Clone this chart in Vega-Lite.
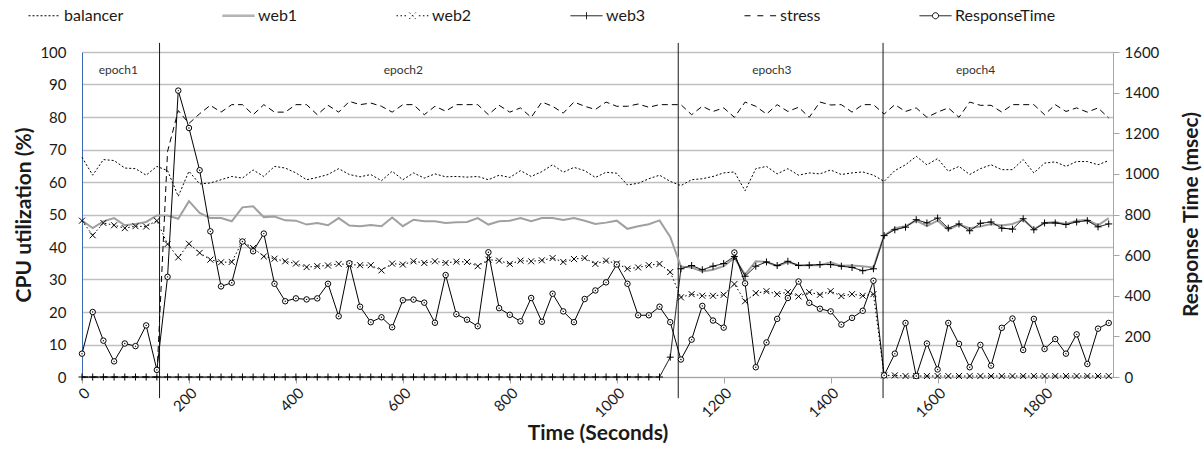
{
  "$schema": "https://vega.github.io/schema/vega-lite/v6.json",
  "width": 1031,
  "height": 325,
  "autosize": {"type": "none"},
  "padding": {"left": 82, "top": 52, "right": 90, "bottom": 73},
  "background": "white",
  "config": {
    "font": "Lato",
    "view": {"stroke": null},
    "axis": {"labelFont": "Lato", "titleFont": "Lato", "labelColor": "#1a1a1a", "titleColor": "#1a1a1a", "labelFontSize": 15, "titleFontSize": 21, "titleFontWeight": "bold"},
    "legend": {"labelFont": "Lato", "labelFontSize": 16, "labelColor": "#1a1a1a"}
  },
  "data": {"values": [
    {"t":0,"balancer":67.6,"web1":48.1,"web2":48.1,"web3":0,"stress":0,"rt":115},
    {"t":20,"balancer":62.1,"web1":45.8,"web2":43.6,"web3":0,"stress":0,"rt":320},
    {"t":40,"balancer":66.9,"web1":47.9,"web2":47.4,"web3":0,"stress":0,"rt":179},
    {"t":60,"balancer":66.6,"web1":48.9,"web2":46.7,"web3":0,"stress":0,"rt":77},
    {"t":80,"balancer":64.3,"web1":46.7,"web2":45.8,"web3":0,"stress":0,"rt":165},
    {"t":100,"balancer":64.1,"web1":47.1,"web2":46.4,"web3":0,"stress":0,"rt":152},
    {"t":120,"balancer":62.1,"web1":47.7,"web2":46.3,"web3":0,"stress":0,"rt":254},
    {"t":140,"balancer":64.8,"web1":49.7,"web2":48.1,"web3":0,"stress":0,"rt":35},
    {"t":160,"balancer":63.5,"web1":49.7,"web2":40.9,"web3":0,"stress":69.4,"rt":493},
    {"t":180,"balancer":55.6,"web1":48.7,"web2":36.8,"web3":0,"stress":82.0,"rt":1410},
    {"t":200,"balancer":63.3,"web1":54.1,"web2":41.0,"web3":0,"stress":78.0,"rt":1226},
    {"t":220,"balancer":59.4,"web1":50.5,"web2":38.2,"web3":0,"stress":81.0,"rt":1018},
    {"t":240,"balancer":59.7,"web1":48.9,"web2":36.1,"web3":0,"stress":83.6,"rt":717},
    {"t":260,"balancer":60.7,"web1":48.9,"web2":35.3,"web3":0,"stress":81.5,"rt":446},
    {"t":280,"balancer":61.7,"web1":47.9,"web2":35.4,"web3":0,"stress":83.8,"rt":464},
    {"t":300,"balancer":61.2,"web1":52.2,"web2":41.7,"web3":0,"stress":83.8,"rt":667},
    {"t":320,"balancer":63.7,"web1":52.5,"web2":39.7,"web3":0,"stress":80.7,"rt":619},
    {"t":340,"balancer":61.7,"web1":49.2,"web2":37.1,"web3":0,"stress":83.8,"rt":706},
    {"t":360,"balancer":64.8,"web1":49.4,"web2":36.4,"web3":0,"stress":81.5,"rt":459},
    {"t":380,"balancer":64.3,"web1":48.2,"web2":35.6,"web3":0,"stress":81.5,"rt":373},
    {"t":400,"balancer":62.8,"web1":48.1,"web2":34.9,"web3":0,"stress":83.8,"rt":387},
    {"t":420,"balancer":60.7,"web1":46.9,"web2":33.8,"web3":0,"stress":83.8,"rt":382},
    {"t":440,"balancer":61.4,"web1":47.4,"web2":34.1,"web3":0,"stress":80.7,"rt":387},
    {"t":460,"balancer":62.3,"web1":46.7,"web2":34.3,"web3":0,"stress":83.6,"rt":459},
    {"t":480,"balancer":64.1,"web1":48.9,"web2":34.8,"web3":0,"stress":81.5,"rt":299},
    {"t":500,"balancer":62.3,"web1":46.6,"web2":34.6,"web3":0,"stress":84.8,"rt":560},
    {"t":520,"balancer":61.6,"web1":46.4,"web2":34.4,"web3":0,"stress":83.8,"rt":346},
    {"t":540,"balancer":62.3,"web1":46.8,"web2":34.4,"web3":0,"stress":84.3,"rt":270},
    {"t":560,"balancer":60.4,"web1":46.4,"web2":32.8,"web3":0,"stress":83.3,"rt":294},
    {"t":580,"balancer":63.3,"web1":49.1,"web2":34.9,"web3":0,"stress":81.5,"rt":245},
    {"t":600,"balancer":60.7,"web1":46.4,"web2":34.6,"web3":0,"stress":83.8,"rt":378},
    {"t":620,"balancer":62.8,"web1":48.4,"web2":35.6,"web3":0,"stress":83.8,"rt":381},
    {"t":640,"balancer":61.2,"web1":47.9,"web2":35.1,"web3":0,"stress":80.7,"rt":366},
    {"t":660,"balancer":62.5,"web1":47.9,"web2":35.6,"web3":0,"stress":83.3,"rt":267},
    {"t":680,"balancer":61.6,"web1":47.4,"web2":35.1,"web3":0,"stress":81.8,"rt":502},
    {"t":700,"balancer":61.7,"web1":47.6,"web2":35.5,"web3":0,"stress":83.8,"rt":309},
    {"t":720,"balancer":61.5,"web1":47.7,"web2":35.4,"web3":0,"stress":83.8,"rt":282},
    {"t":740,"balancer":61.7,"web1":48.9,"web2":34.1,"web3":0,"stress":83.8,"rt":250},
    {"t":760,"balancer":60.7,"web1":46.9,"web2":36.1,"web3":0,"stress":80.7,"rt":614},
    {"t":780,"balancer":62.1,"web1":47.9,"web2":35.8,"web3":0,"stress":83.6,"rt":339},
    {"t":800,"balancer":61.4,"web1":48.1,"web2":34.8,"web3":0,"stress":81.5,"rt":306},
    {"t":820,"balancer":63.5,"web1":48.9,"web2":35.8,"web3":0,"stress":82.8,"rt":274},
    {"t":840,"balancer":61.7,"web1":47.9,"web2":35.6,"web3":0,"stress":79.9,"rt":389},
    {"t":860,"balancer":63.2,"web1":48.9,"web2":35.9,"web3":0,"stress":84.6,"rt":272},
    {"t":880,"balancer":65.3,"web1":48.9,"web2":36.6,"web3":0,"stress":83.3,"rt":410},
    {"t":900,"balancer":63.0,"web1":48.3,"web2":35.4,"web3":0,"stress":81.2,"rt":323},
    {"t":920,"balancer":64.5,"web1":48.9,"web2":36.3,"web3":0,"stress":84.6,"rt":270},
    {"t":940,"balancer":63.5,"web1":48.1,"web2":36.6,"web3":0,"stress":83.3,"rt":384},
    {"t":960,"balancer":61.4,"web1":47.1,"web2":34.8,"web3":0,"stress":82.3,"rt":426},
    {"t":980,"balancer":63.0,"web1":47.5,"web2":35.8,"web3":0,"stress":84.6,"rt":466},
    {"t":1000,"balancer":62.7,"web1":48.1,"web2":34.9,"web3":0,"stress":83.3,"rt":554},
    {"t":1020,"balancer":59.1,"web1":45.6,"web2":33.3,"web3":0,"stress":83.3,"rt":459},
    {"t":1040,"balancer":59.6,"web1":46.4,"web2":33.7,"web3":0,"stress":84.0,"rt":304},
    {"t":1060,"balancer":61.0,"web1":47.0,"web2":34.4,"web3":0,"stress":83.0,"rt":304},
    {"t":1080,"balancer":62.1,"web1":48.2,"web2":34.8,"web3":0,"stress":83.8,"rt":346},
    {"t":1100,"balancer":60.2,"web1":43.1,"web2":32.3,"web3":6.1,"stress":83.8,"rt":270},
    {"t":1120,"balancer":58.9,"web1":34.0,"web2":24.5,"web3":33.3,"stress":83.8,"rt":86},
    {"t":1140,"balancer":60.7,"web1":33.7,"web2":25.5,"web3":34.3,"stress":80.7,"rt":184},
    {"t":1160,"balancer":61.0,"web1":32.5,"web2":25.0,"web3":33.0,"stress":83.3,"rt":350},
    {"t":1180,"balancer":61.7,"web1":33.0,"web2":25.0,"web3":34.1,"stress":81.7,"rt":278},
    {"t":1200,"balancer":62.8,"web1":34.1,"web2":25.3,"web3":34.9,"stress":82.8,"rt":243},
    {"t":1220,"balancer":63.1,"web1":36.6,"web2":28.6,"web3":37.1,"stress":79.9,"rt":613},
    {"t":1240,"balancer":57.3,"web1":31.5,"web2":23.3,"web3":31.0,"stress":84.6,"rt":461},
    {"t":1260,"balancer":64.1,"web1":35.6,"web2":25.8,"web3":34.1,"stress":83.3,"rt":48},
    {"t":1280,"balancer":64.8,"web1":35.4,"web2":26.4,"web3":35.4,"stress":80.9,"rt":170},
    {"t":1300,"balancer":62.5,"web1":34.1,"web2":25.5,"web3":34.3,"stress":83.8,"rt":286},
    {"t":1320,"balancer":64.1,"web1":35.4,"web2":26.1,"web3":35.6,"stress":81.7,"rt":389},
    {"t":1340,"balancer":62.1,"web1":34.4,"web2":24.8,"web3":34.3,"stress":83.0,"rt":470},
    {"t":1360,"balancer":62.8,"web1":34.4,"web2":26.1,"web3":34.4,"stress":79.9,"rt":365},
    {"t":1380,"balancer":62.5,"web1":34.4,"web2":25.3,"web3":34.6,"stress":84.6,"rt":336},
    {"t":1400,"balancer":63.7,"web1":35.3,"web2":26.4,"web3":34.6,"stress":83.7,"rt":323},
    {"t":1420,"balancer":62.3,"web1":34.2,"web2":24.9,"web3":34.1,"stress":83.8,"rt":258},
    {"t":1440,"balancer":62.8,"web1":34.3,"web2":25.5,"web3":33.7,"stress":81.5,"rt":291},
    {"t":1460,"balancer":63.1,"web1":34.1,"web2":25.0,"web3":32.7,"stress":83.8,"rt":326},
    {"t":1480,"balancer":62.1,"web1":33.7,"web2":25.5,"web3":33.3,"stress":83.8,"rt":474},
    {"t":1500,"balancer":60.2,"web1":43.5,"web2":0.5,"web3":43.5,"stress":80.9,"rt":8},
    {"t":1520,"balancer":63.5,"web1":45.8,"web2":0.5,"web3":45.3,"stress":83.8,"rt":115},
    {"t":1540,"balancer":65.3,"web1":46.4,"web2":0.3,"web3":46.1,"stress":81.7,"rt":266},
    {"t":1560,"balancer":67.9,"web1":48.1,"web2":0.3,"web3":48.4,"stress":82.8,"rt":5},
    {"t":1580,"balancer":65.3,"web1":46.4,"web2":0.3,"web3":47.4,"stress":79.9,"rt":165},
    {"t":1600,"balancer":67.2,"web1":48.1,"web2":0.3,"web3":48.9,"stress":81.5,"rt":37},
    {"t":1620,"balancer":63.3,"web1":45.3,"web2":0.3,"web3":45.8,"stress":82.8,"rt":266},
    {"t":1640,"balancer":64.8,"web1":46.9,"web2":0.3,"web3":47.1,"stress":79.9,"rt":163},
    {"t":1660,"balancer":62.3,"web1":45.8,"web2":0.3,"web3":45.0,"stress":84.6,"rt":48},
    {"t":1680,"balancer":64.1,"web1":46.3,"web2":0.3,"web3":47.3,"stress":83.6,"rt":158},
    {"t":1700,"balancer":65.3,"web1":47.1,"web2":0.3,"web3":47.7,"stress":83.6,"rt":56},
    {"t":1720,"balancer":63.8,"web1":46.6,"web2":0.3,"web3":45.8,"stress":81.5,"rt":242},
    {"t":1740,"balancer":63.8,"web1":47.1,"web2":0.3,"web3":45.5,"stress":83.8,"rt":288},
    {"t":1760,"balancer":66.9,"web1":48.4,"web2":0.3,"web3":48.7,"stress":83.8,"rt":133},
    {"t":1780,"balancer":62.8,"web1":45.5,"web2":0.3,"web3":45.3,"stress":83.8,"rt":286},
    {"t":1800,"balancer":65.8,"web1":47.4,"web2":0.3,"web3":47.4,"stress":80.7,"rt":138},
    {"t":1820,"balancer":66.2,"web1":47.7,"web2":0.3,"web3":47.4,"stress":83.8,"rt":187},
    {"t":1840,"balancer":64.8,"web1":47.1,"web2":0.3,"web3":46.9,"stress":81.7,"rt":115},
    {"t":1860,"balancer":66.3,"web1":48.1,"web2":0.3,"web3":47.7,"stress":82.8,"rt":210},
    {"t":1880,"balancer":66.3,"web1":48.4,"web2":0.3,"web3":48.1,"stress":81.5,"rt":64},
    {"t":1900,"balancer":65.3,"web1":46.7,"web2":0.3,"web3":46.2,"stress":82.8,"rt":238},
    {"t":1920,"balancer":66.6,"web1":48.9,"web2":0.3,"web3":47.1,"stress":79.7,"rt":266}
  ]},
  "layer": [
    {
      "layer": [
        {
          "data": {"values": [{"t": 145}, {"t": 1115}, {"t": 1498}]},
          "mark": {"type": "rule", "color": "#1a1a1a", "strokeWidth": 1},
          "encoding": {
            "x": {"field": "t", "type": "quantitative", "scale": {"domain": [0, 1928], "nice": false, "zero": false}, "title": "Time (Seconds)",
              "axis": {"values": [0, 200, 400, 600, 800, 1000, 1200, 1400, 1600, 1800], "format": "d", "title": "Time (Seconds)", "labelAngle": -45, "grid": false, "tickSize": 6, "tickColor": "#a6a6a6", "domainColor": "#a6a6a6", "labelPadding": 2, "titlePadding": 2}},
            "y": {"datum": 102.8, "type": "quantitative", "scale": {"domain": [0, 100], "nice": false}, "title": "CPU utilization (%)",
              "axis": {"values": [0, 10, 20, 30, 40, 50, 60, 70, 80, 90, 100], "format": "d", "title": "CPU utilization (%)", "grid": true, "gridColor": "#c0c0c0", "gridWidth": 1.3, "ticks": false, "domainColor": "#3d6bb3", "labelPadding": 16, "titlePadding": 5}},
            "y2": {"datum": -6.5}
          }
        },
        {
          "data": {"values": [{"t": 68, "label": "epoch1"}, {"t": 601, "label": "epoch2"}, {"t": 1290, "label": "epoch3"}, {"t": 1671, "label": "epoch4"}]},
          "mark": {"type": "text", "fontSize": 12, "color": "#333333", "font": "Lato"},
          "encoding": {
            "x": {"field": "t", "type": "quantitative", "scale": {"domain": [0, 1928], "nice": false, "zero": false}, "title": "Time (Seconds)",
              "axis": {"values": [0, 200, 400, 600, 800, 1000, 1200, 1400, 1600, 1800], "format": "d", "title": "Time (Seconds)", "labelAngle": -45, "grid": false, "tickSize": 6, "tickColor": "#a6a6a6", "domainColor": "#a6a6a6", "labelPadding": 2, "titlePadding": 2}},
            "y": {"datum": 94.5, "type": "quantitative", "scale": {"domain": [0, 100], "nice": false}, "title": "CPU utilization (%)",
              "axis": {"values": [0, 10, 20, 30, 40, 50, 60, 70, 80, 90, 100], "format": "d", "title": "CPU utilization (%)", "grid": true, "gridColor": "#c0c0c0", "gridWidth": 1.3, "ticks": false, "domainColor": "#3d6bb3", "labelPadding": 16, "titlePadding": 5}},
            "text": {"field": "label", "type": "nominal"}
          }
        },
        {
          "mark": {"type": "line", "strokeWidth": 2, "color": "#a0a0a0"},
          "encoding": {
            "x": {"field": "t", "type": "quantitative", "scale": {"domain": [0, 1928], "nice": false, "zero": false}, "title": "Time (Seconds)",
              "axis": {"values": [0, 200, 400, 600, 800, 1000, 1200, 1400, 1600, 1800], "format": "d", "title": "Time (Seconds)", "labelAngle": -45, "grid": false, "tickSize": 6, "tickColor": "#a6a6a6", "domainColor": "#a6a6a6", "labelPadding": 2, "titlePadding": 2}},
            "y": {"field": "web1", "type": "quantitative", "scale": {"domain": [0, 100], "nice": false}, "title": "CPU utilization (%)",
              "axis": {"values": [0, 10, 20, 30, 40, 50, 60, 70, 80, 90, 100], "format": "d", "title": "CPU utilization (%)", "grid": true, "gridColor": "#c0c0c0", "gridWidth": 1.3, "ticks": false, "domainColor": "#3d6bb3", "labelPadding": 16, "titlePadding": 5}}
          }
        },
        {
          "transform": [{"fold": ["balancer", "web2", "web3", "stress"], "as": ["series", "v"]}],
          "layer": [
            {
              "mark": {"type": "line", "strokeWidth": 1},
              "encoding": {
                "x": {"field": "t", "type": "quantitative", "scale": {"domain": [0, 1928], "nice": false, "zero": false}, "title": "Time (Seconds)",
                  "axis": {"values": [0, 200, 400, 600, 800, 1000, 1200, 1400, 1600, 1800], "format": "d", "title": "Time (Seconds)", "labelAngle": -45, "grid": false, "tickSize": 6, "tickColor": "#a6a6a6", "domainColor": "#a6a6a6", "labelPadding": 2, "titlePadding": 2}},
                "y": {"field": "v", "type": "quantitative", "scale": {"domain": [0, 100], "nice": false}, "title": "CPU utilization (%)",
                  "axis": {"values": [0, 10, 20, 30, 40, 50, 60, 70, 80, 90, 100], "format": "d", "title": "CPU utilization (%)", "grid": true, "gridColor": "#c0c0c0", "gridWidth": 1.3, "ticks": false, "domainColor": "#3d6bb3", "labelPadding": 16, "titlePadding": 5}},
                "color": {"field": "series", "type": "nominal",
                  "scale": {"domain": ["balancer", "web1", "web2", "web3", "stress", "ResponseTime"], "range": ["#000000", "#a0a0a0", "#000000", "#000000", "#000000", "#000000"]},
                  "legend": {"title": null, "orient": "none", "legendX": -54, "legendY": -53, "direction": "horizontal", "symbolSize": 1024, "symbolStrokeWidth": 1, "columnPadding": 96, "labelOffset": 3, "padding": 0}},
                "strokeDash": {"field": "series", "type": "nominal",
                  "scale": {"domain": ["balancer", "web1", "web2", "web3", "stress", "ResponseTime"], "range": [[2, 2], [1, 0], [1.5, 2.5], [1, 0], [6, 4], [1, 0]]},
                  "legend": null},
                "order": {"field": "t", "type": "quantitative"}
              }
            },
            {
              "transform": [{"filter": "datum.series === 'web2'"}],
              "mark": {"type": "point", "shape": "M-1,-1L1,1M-1,1L1,-1", "size": 36, "filled": false, "color": "#000000", "strokeWidth": 1, "opacity": 1},
              "encoding": {
                "x": {"field": "t", "type": "quantitative", "scale": {"domain": [0, 1928], "nice": false, "zero": false}, "title": "Time (Seconds)",
                  "axis": {"values": [0, 200, 400, 600, 800, 1000, 1200, 1400, 1600, 1800], "format": "d", "title": "Time (Seconds)", "labelAngle": -45, "grid": false, "tickSize": 6, "tickColor": "#a6a6a6", "domainColor": "#a6a6a6", "labelPadding": 2, "titlePadding": 2}},
                "y": {"field": "v", "type": "quantitative", "scale": {"domain": [0, 100], "nice": false}, "title": "CPU utilization (%)",
                  "axis": {"values": [0, 10, 20, 30, 40, 50, 60, 70, 80, 90, 100], "format": "d", "title": "CPU utilization (%)", "grid": true, "gridColor": "#c0c0c0", "gridWidth": 1.3, "ticks": false, "domainColor": "#3d6bb3", "labelPadding": 16, "titlePadding": 5}}
              }
            },
            {
              "transform": [{"filter": "datum.series === 'web3'"}],
              "mark": {"type": "point", "shape": "M-1,0L1,0M0,-1L0,1", "size": 49, "filled": false, "color": "#000000", "strokeWidth": 1, "opacity": 1},
              "encoding": {
                "x": {"field": "t", "type": "quantitative", "scale": {"domain": [0, 1928], "nice": false, "zero": false}, "title": "Time (Seconds)",
                  "axis": {"values": [0, 200, 400, 600, 800, 1000, 1200, 1400, 1600, 1800], "format": "d", "title": "Time (Seconds)", "labelAngle": -45, "grid": false, "tickSize": 6, "tickColor": "#a6a6a6", "domainColor": "#a6a6a6", "labelPadding": 2, "titlePadding": 2}},
                "y": {"field": "v", "type": "quantitative", "scale": {"domain": [0, 100], "nice": false}, "title": "CPU utilization (%)",
                  "axis": {"values": [0, 10, 20, 30, 40, 50, 60, 70, 80, 90, 100], "format": "d", "title": "CPU utilization (%)", "grid": true, "gridColor": "#c0c0c0", "gridWidth": 1.3, "ticks": false, "domainColor": "#3d6bb3", "labelPadding": 16, "titlePadding": 5}}
              }
            }
          ]
        },
        {
          "data": {"values": []},
          "mark": {"type": "point", "filled": false, "size": 1024, "strokeWidth": 1, "opacity": 1},
          "encoding": {
            "shape": {"field": "series", "type": "nominal",
              "scale": {"domain": ["balancer", "web1", "web2", "web3", "stress", "ResponseTime"],
                "range": [
                  "M-1,0L-0.875,0M-0.75,0L-0.625,0M-0.5,0L-0.375,0M-0.25,0L-0.125,0M0,0L0.125,0M0.25,0L0.375,0M0.5,0L0.625,0M0.75,0L0.875,0",
                  "M-1,-0.045L1,-0.045M-1,0.045L1,0.045M-1,0L1,0",
                  "M-1,0L-0.9,0M-0.75,0L-0.65,0M-0.5,0L-0.4,0M0.4,0L0.5,0M0.65,0L0.75,0M0.9,0L1,0M-0.2,-0.2L0.2,0.2M-0.2,0.2L0.2,-0.2",
                  "M-1,0L1,0M0,-0.22L0,0.22",
                  "M-1,0L-0.6,0M-0.2,0L0.2,0M0.6,0L1,0",
                  "M-1,0L-0.19,0M0.19,0L1,0M0.19,0A0.19,0.19,0,1,0,-0.19,0A0.19,0.19,0,1,0,0.19,0"
                ]},
              "legend": {"title": null, "orient": "none", "legendX": -54, "legendY": -53, "direction": "horizontal", "symbolSize": 1024, "symbolStrokeWidth": 1, "columnPadding": 96, "labelOffset": 3, "padding": 0}},
            "color": {"field": "series", "type": "nominal",
              "scale": {"domain": ["balancer", "web1", "web2", "web3", "stress", "ResponseTime"], "range": ["#000000", "#a0a0a0", "#000000", "#000000", "#000000", "#000000"]},
              "legend": {"title": null, "orient": "none", "legendX": -54, "legendY": -53, "direction": "horizontal", "symbolSize": 1024, "symbolStrokeWidth": 1, "columnPadding": 96, "labelOffset": 3, "padding": 0}}
          }
        }
      ]
    },
    {
      "layer": [
        {
          "mark": {"type": "line", "color": "#000000", "strokeWidth": 1},
          "encoding": {
            "x": {"field": "t", "type": "quantitative", "scale": {"domain": [0, 1928], "nice": false, "zero": false}, "title": "Time (Seconds)",
              "axis": {"values": [0, 200, 400, 600, 800, 1000, 1200, 1400, 1600, 1800], "format": "d", "title": "Time (Seconds)", "labelAngle": -45, "grid": false, "tickSize": 6, "tickColor": "#a6a6a6", "domainColor": "#a6a6a6", "labelPadding": 2, "titlePadding": 2}},
            "y": {"field": "rt", "type": "quantitative", "scale": {"domain": [0, 1600], "nice": false}, "title": "Response Time (msec)",
              "axis": {"orient": "right", "values": [0, 200, 400, 600, 800, 1000, 1200, 1400, 1600], "format": "d", "title": "Response Time (msec)", "titleAngle": -90, "titleX": 78, "titleY": 162, "titleAlign": "center", "titleBaseline": "middle", "grid": false, "tickSize": 6, "tickColor": "#a6a6a6", "domainColor": "#a6a6a6", "labelPadding": 5}}
          }
        },
        {
          "mark": {"type": "point", "shape": "circle", "size": 30, "filled": true, "fill": "#ffffff", "stroke": "#000000", "strokeWidth": 1, "opacity": 1},
          "encoding": {
            "x": {"field": "t", "type": "quantitative", "scale": {"domain": [0, 1928], "nice": false, "zero": false}, "title": "Time (Seconds)",
              "axis": {"values": [0, 200, 400, 600, 800, 1000, 1200, 1400, 1600, 1800], "format": "d", "title": "Time (Seconds)", "labelAngle": -45, "grid": false, "tickSize": 6, "tickColor": "#a6a6a6", "domainColor": "#a6a6a6", "labelPadding": 2, "titlePadding": 2}},
            "y": {"field": "rt", "type": "quantitative", "scale": {"domain": [0, 1600], "nice": false}, "title": "Response Time (msec)",
              "axis": {"orient": "right", "values": [0, 200, 400, 600, 800, 1000, 1200, 1400, 1600], "format": "d", "title": "Response Time (msec)", "titleAngle": -90, "titleX": 78, "titleY": 162, "titleAlign": "center", "titleBaseline": "middle", "grid": false, "tickSize": 6, "tickColor": "#a6a6a6", "domainColor": "#a6a6a6", "labelPadding": 5}}
          }
        },
        {
          "mark": {"type": "point", "shape": "circle", "size": 2, "filled": true, "color": "#000000", "opacity": 1},
          "encoding": {
            "x": {"field": "t", "type": "quantitative", "scale": {"domain": [0, 1928], "nice": false, "zero": false}, "title": "Time (Seconds)",
              "axis": {"values": [0, 200, 400, 600, 800, 1000, 1200, 1400, 1600, 1800], "format": "d", "title": "Time (Seconds)", "labelAngle": -45, "grid": false, "tickSize": 6, "tickColor": "#a6a6a6", "domainColor": "#a6a6a6", "labelPadding": 2, "titlePadding": 2}},
            "y": {"field": "rt", "type": "quantitative", "scale": {"domain": [0, 1600], "nice": false}, "title": "Response Time (msec)",
              "axis": {"orient": "right", "values": [0, 200, 400, 600, 800, 1000, 1200, 1400, 1600], "format": "d", "title": "Response Time (msec)", "titleAngle": -90, "titleX": 78, "titleY": 162, "titleAlign": "center", "titleBaseline": "middle", "grid": false, "tickSize": 6, "tickColor": "#a6a6a6", "domainColor": "#a6a6a6", "labelPadding": 5}}
          }
        }
      ]
    }
  ],
  "resolve": {"scale": {"y": "independent"}}
}
